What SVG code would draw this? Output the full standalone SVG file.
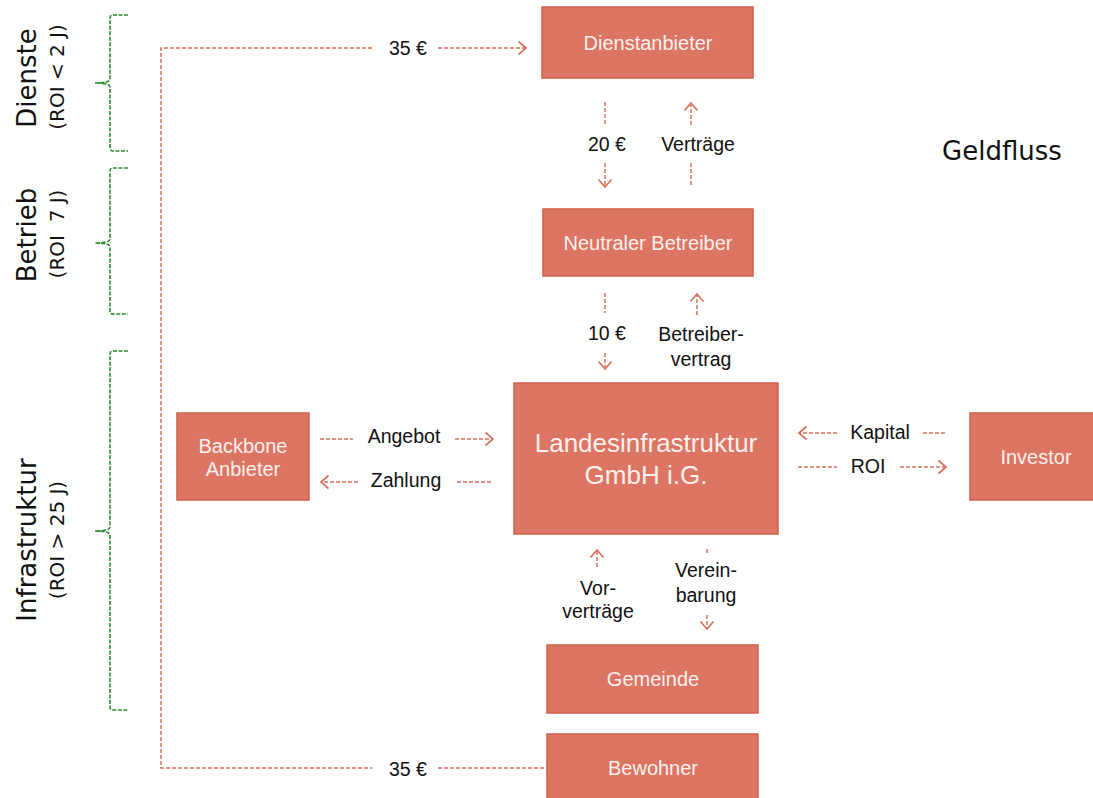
<svg xmlns="http://www.w3.org/2000/svg" width="1093" height="798" viewBox="0 0 1093 798">
<defs>
<marker id="ah" markerUnits="userSpaceOnUse" markerWidth="16" markerHeight="16" viewBox="-9 -8 11 16" refX="0" refY="0" orient="auto">
<path d="M-7.5,-6.5 L0,0 L-7.5,6.5" fill="none" stroke="#D9705C" stroke-width="1.7"/>
</marker>
<style>
.box{fill:#DC7563;stroke:#D0604C;stroke-width:1.5}
.nt{font-family:"Liberation Sans",Arial,sans-serif;font-size:20px;fill:#FDF0EC;text-anchor:middle}
.big{font-size:26px}
.lb{font-family:"Liberation Sans",Arial,sans-serif;font-size:19.5px;fill:#111;text-anchor:middle}
.cn{fill:none;stroke:#D9705C;stroke-width:1.5;stroke-dasharray:4 2}
.ar{marker-end:url(#ah)}
.br{fill:none;stroke:#2E8B2E;stroke-width:1.6;stroke-dasharray:4 1.5}
.side{font-family:"DejaVu Sans",Verdana,sans-serif;fill:#111;text-anchor:middle}
</style>
</defs>
<rect width="1093" height="798" fill="#fff"/>

<g id="braces">
<path class="br" d="M128,15 H113 Q110,15 110,18 V79 Q110,83 95,83 Q110,83 110,87 V147 Q110,151 113,151 H128"/>
<path class="br" d="M128,168 H113 Q110,168 110,171 V239 Q110,243 95,243 Q110,243 110,247 V311 Q110,314 113,314 H128"/>
<path class="br" d="M128,351 H113 Q110,351 110,354 V527 Q110,531 95,531 Q110,531 110,535 V707 Q110,710 113,710 H128"/>
</g>

<g id="side-labels">
<text class="side" font-size="26" transform="translate(36,78) rotate(-90)">Dienste</text>
<text class="side" font-size="20" transform="translate(64,77) rotate(-90)">(ROI &lt; 2 J)</text>
<text class="side" font-size="26" transform="translate(36,235) rotate(-90)">Betrieb</text>
<text class="side" font-size="20" transform="translate(64,234) rotate(-90)" xml:space="preserve">(ROI  7 J)</text>
<text class="side" font-size="26" transform="translate(36,540) rotate(-90)">Infrastruktur</text>
<text class="side" font-size="20" transform="translate(64,540) rotate(-90)">(ROI &gt; 25 J)</text>
<text class="side" font-size="26" x="1002" y="160">Geldfluss</text>
</g>

<g id="connectors">
<path class="cn" d="M372,48 H161 V768 H372"/>
<path class="cn ar" d="M438,48 H526"/>
<path class="cn" d="M438,768 H547"/>
<path class="cn" d="M605,102 V125"/>
<path class="cn ar" d="M605,163 V187"/>
<path class="cn ar" d="M691,125 V103"/>
<path class="cn" d="M691,163 V186"/>
<path class="cn" d="M605,293 V313"/>
<path class="cn ar" d="M605,353 V369"/>
<path class="cn ar" d="M697,315 V294"/>
<path class="cn" d="M320,439 H353"/>
<path class="cn ar" d="M455,439 H493"/>
<path class="cn ar" d="M358,482 H321"/>
<path class="cn" d="M457,482 H493"/>
<path class="cn ar" d="M837,433 H799"/>
<path class="cn" d="M923,433 H946"/>
<path class="cn" d="M798,467 H837"/>
<path class="cn ar" d="M900,467 H946"/>
<path class="cn ar" d="M597,567 V550"/>
<path class="cn" d="M707,549 V553"/>
<path class="cn ar" d="M707,615 V629"/>
<text class="lb" x="408" y="55">35 €</text>
<text class="lb" x="408" y="776">35 €</text>
<text class="lb" x="607" y="151">20 €</text>
<text class="lb" x="698" y="151">Verträge</text>
<text class="lb" x="607" y="340">10 €</text>
<text class="lb" x="701" y="341">Betreiber-</text>
<text class="lb" x="701" y="366">vertrag</text>
<text class="lb" x="404" y="443">Angebot</text>
<text class="lb" x="406" y="487">Zahlung</text>
<text class="lb" x="880" y="439">Kapital</text>
<text class="lb" x="868" y="473">ROI</text>
<text class="lb" x="598" y="595">Vor-</text>
<text class="lb" x="598" y="618">verträge</text>
<text class="lb" x="706" y="577">Verein-</text>
<text class="lb" x="706" y="602">barung</text>
</g>

<g id="dienstanbieter">
<rect class="box" x="542" y="7" width="211" height="71"/>
<text class="nt" x="648" y="50">Dienstanbieter</text>
</g>
<g id="neutraler-betreiber">
<rect class="box" x="543" y="209" width="210" height="67"/>
<text class="nt" x="648" y="250">Neutraler Betreiber</text>
</g>
<g id="landesinfrastruktur">
<rect class="box" x="514" y="383" width="264" height="151"/>
<text class="nt big" x="646" y="452">Landesinfrastruktur</text>
<text class="nt big" x="646" y="484">GmbH i.G.</text>
</g>
<g id="backbone">
<rect class="box" x="177" y="413" width="132" height="87"/>
<text class="nt" x="243" y="453">Backbone</text>
<text class="nt" x="243" y="476">Anbieter</text>
</g>
<g id="investor">
<rect class="box" x="970" y="413" width="130" height="87"/>
<text class="nt" x="1036" y="464">Investor</text>
</g>
<g id="gemeinde">
<rect class="box" x="547" y="645" width="211" height="68"/>
<text class="nt" x="653" y="686">Gemeinde</text>
</g>
<g id="bewohner">
<rect class="box" x="547" y="734" width="211" height="70"/>
<text class="nt" x="653" y="775">Bewohner</text>
</g>
</svg>
